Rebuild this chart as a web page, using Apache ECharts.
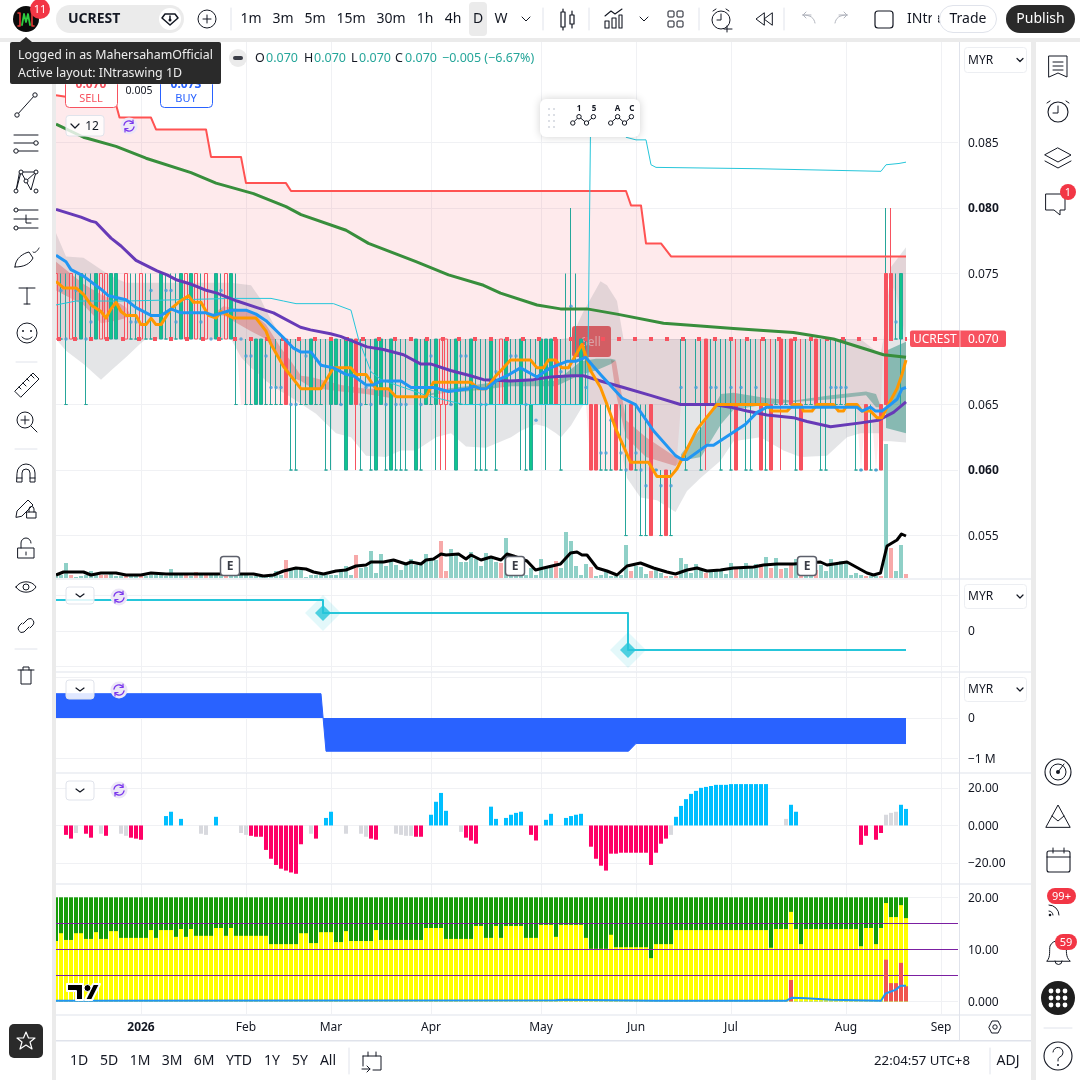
<!DOCTYPE html>
<html><head><meta charset="utf-8"><style>html,body{margin:0;padding:0;background:#fff}#c{width:1080px;height:1080px}</style>
<script src="https://cdn.jsdelivr.net/npm/echarts@6/dist/echarts.min.js"></script></head><body><div id="c"></div>
<script>
const monthTicks=[17,38,55,75,97,116,135,158,177];
const monthLabels=['2026','Feb','Mar','Apr','May','Jun','Jul','Aug','Sep'];
const priceTicks=[0.055,0.06,0.065,0.07,0.075,0.08,0.085];
// candles in thousandths of MYR
const dojiBars=[[1,75,70],[2,75,65],[4,75,70],[6,75,65],[7,75,70],[15,75,70],[16,75,70],[18,75,70],[19,75,70],[22,75,70],[23,75,70],[24,75,70],[29,75,70],[33,75,70],[36,75,65],[38,70,65],[39,70,65],[42,70,65],[43,70,65],[44,70,65],[45,70,65],[47,70,60],[48,70,60],[49,70,65],[50,70,65],[52,70,65],[53,70,65],[54,70,60],[57,70,65],[61,70,60],[62,70,65],[63,70,60],[66,70,60],[68,70,60],[69,70,60],[70,70,60],[73,70,60],[75,70,65],[79,70,65],[81,70,65],[82,70,65],[84,70,60],[85,70,60],[86,70,60],[88,70,60],[91,70,65],[92,70,65],[94,70,60],[96,70,65],[101,70,60],[102,75,65],[103,80,65],[104,75,65],[106,70,65],[109,65,60],[110,65,60],[111,65,60],[113,65,60],[114,65,55],[116,65,60],[117,65,55],[118,65,55],[120,60,60],[121,60,55],[123,60,55],[125,70,65],[126,70,60],[128,70,65],[129,70,60],[131,70,65],[132,70,65],[133,70,60],[134,70,65],[135,70,60],[137,70,65],[138,70,60],[139,70,60],[140,70,65],[142,70,60],[144,70,65],[146,70,65],[148,70,60],[150,70,65],[151,70,65],[153,70,60],[154,70,60],[155,70,65],[156,70,65],[157,70,65],[158,70,65],[160,65,60],[161,60,60],[163,65,60],[164,60,60],[166,80,65],[168,75,70]];
const greenBars=[[5,75,70,75,70],[8,75,70,75,70],[11,75,70,75,70],[12,75,70,75,70],[21,75,70,75,70],[25,75,70,75,70],[27,75,70,75,70],[32,75,70,75,70],[35,75,70,75,70],[40,70,65,70,65],[41,70,65,70,65],[51,70,65,70,65],[55,70,65,70,60],[56,70,65,70,65],[58,70,60,70,60],[59,70,65,70,65],[64,70,60,70,60],[65,70,65,70,65],[67,70,60,70,60],[72,70,60,70,60],[74,70,65,70,65],[76,70,65,70,60],[80,70,60,70,60],[83,70,65,70,65],[87,70,65,70,65],[90,70,65,70,65],[93,70,65,70,60],[95,65,60,70,60],[97,70,65,70,65],[98,70,65,70,60],[99,70,65,70,65],[105,70,65,70,65],[169,75,70,75,65]];
const redBars=[[46,70,65,70,65],[60,70,65,70,60],[100,70,65,70,65],[107,65,60,65,60],[108,65,60,65,60],[112,65,60,65,60],[115,65,60,65,60],[119,65,55,65,55],[122,60,55,60,55],[130,70,65,70,60],[136,65,60,70,60],[141,65,60,70,60],[143,65,60,70,60],[145,70,65,70,60],[147,70,65,70,65],[149,65,60,70,60],[152,70,65,70,65],[162,65,60,65,60],[165,65,60,65,60],[166,75,65,75,65],[167,75,70,80,70]];
const hollowBars=[[0,75,70,75,70],[3,75,70,75,70],[9,75,70,75,70],[10,75,70,75,70],[14,75,70,75,70],[17,75,70,75,70],[26,75,70,75,70],[28,75,70,75,70],[30,75,70,75,70],[34,75,70,75,70],[77,70,65,70,60],[78,70,65,70,60],[89,70,65,70,65]];
const signalDots=[[1,.0737],[4,.0737],[19,.0737],[22,.0737],[23,.0737],[33,.0737],[7,.0713],[15,.0713],[16,.0713],[24,.0713],[29,.0713],[2,.07],[6,.07],[31,.07],[37,.07],[38,.0687],[39,.0687],[42,.0687],[50,.0687],[75,.0687],[81,.0687],[82,.0687],[43,.0663],[44,.0663],[45,.0663],[62,.0663],[47,.065],[48,.065],[57,.065],[61,.065],[63,.065],[66,.065],[68,.065],[69,.065],[70,.065],[73,.065],[79,.065],[85,.065],[86,.065],[88,.0675],[91,.0687],[92,.0687],[94,.065],[96,.0638],[101,.0675],[103,.0725],[106,.0663],[125,.0663],[128,.0663],[131,.0663],[132,.0663],[135,.0663],[137,.0663],[140,.0663],[155,.0663],[156,.0663],[157,.0663],[158,.0663],[111,.0638],[109,.0613],[110,.0613],[113,.0613],[116,.0613],[114,.06],[117,.06],[120,.06],[161,.06],[164,.06],[118,.0588],[121,.0588],[123,.0588],[168,.0713]];
const currentPrice=0.07;
const stopLine=[[0,.0886],[12,.0879],[12.7,.0869],[19,.0869],[20,.0860],[30,.0860],[31,.0839],[37,.0839],[38,.0819],[46,.0819],[47,.0813],[114,.0813],[115,.0802],[117,.0802],[118,.0773],[121,.0773],[123,.0763],[170,.0763]];
const pinkBase=[[0,.07],[36,.07],[37,.065],[106,.065],[107,.06],[124,.06],[125,.065],[160,.065],[161,.06],[162,.065],[163,.065],[164,.06],[165,.065],[166,.075],[168,.0735],[170,.07]];
const greyBand=[[0,.07,.0781],[2,.0691,.0763],[5.5,.0681,.0762],[9,.0669,.0753],[11,.0676,.0748],[14,.0686,.0743],[17,.0697,.0743],[18,.07,.0743],[35,.07,.0743],[37,.0686,.0742],[39,.0678,.0741],[41,.0672,.073],[42,.0668,.0722],[45,.066,.0701],[46,.0658,.07],[52,.0643,.07],[56,.0628,.07],[59,.0625,.07],[62,.0611,.07],[66,.061,.07],[69,.0615,.07],[72,.0615,.07],[76,.0625,.07],[79,.0628,.07],[82,.0618,.07],[86,.0617,.07],[91,.0625,.07],[93,.063,.07],[96,.0635,.07],[98,.0633,.07],[100,.0628,.07],[101,.0625,.07],[103,.0634,.0701],[105.5,.065,.0721],[108.9,.065,.0744],[110.2,.065,.0741],[112.2,.065,.0729],[113.5,.0607,.07],[114.2,.0594,.07],[116.9,.0579,.07],[120.2,.0577,.07],[123.9,.0568,.07],[126.2,.0584,.07],[128.9,.0594,.07],[132.9,.0607,.07],[135.5,.0622,.07],[140.9,.0625,.07],[145.5,.0615,.07],[148.9,.061,.07],[154.2,.0611,.07],[158.2,.0625,.07],[160.9,.0628,.07],[164.9,.0628,.0688],[165.5,.0622,.07],[167,.0622,.0755],[170,.0621,.077]];
const redRibbonA=[[0,.0737,.0759],[5.5,.0726,.0742],[9,.0712,.0734],[12,.0714,.0729],[14,.0716,.0724],[15,.0718,.0718]];
const redRibbonB=[[31,.0718,.0718],[33.5,.0718,.0725],[39,.0706,.0721],[42,.07,.0711],[45,.0683,.0693],[47,.0671,.0683],[49,.0668,.0672],[51,.0663,.0671],[57,.066,.0665],[62,.0658,.0662],[67,.0655,.0662],[68,.0656,.0656]];
const redRibbonC=[[111,.0684,.0684],[112,.0658,.0683],[114,.0625,.0638],[118,.061,.0625],[123.9,.0603,.061],[125,.0607,.0607]];
const tealRibbonA=[[73,.0656,.0656],[78,.0659,.0662],[82,.066,.0664],[91,.0664,.0669],[100,.0664,.0668],[105,.0673,.0683],[108,.0676,.0685],[111,.0681,.0685],[112,.0684,.0684]];
const tealRibbonB=[[125,.0607,.0612],[129,.061,.0632],[133,.0635,.0658],[135.5,.0646,.0659],[142,.065,.0655],[147.5,.0652,.0653],[155,.0654,.0657],[162,.0657,.066],[164,.0648,.0658],[165,.0648,.0648]];
const tealRibbonC=[[166,.0632,.0691],[170,.0628,.0698]];
const orangeLine=[[0,.0744],[1.5,.0739],[4,.0739],[5.5,.0734],[7,.0726],[9,.0721],[10,.0716],[11,.0723],[12,.0728],[13,.0721],[14,.0718],[16,.0718],[17,.0711],[18,.0711],[19,.0716],[20,.0711],[21,.0711],[23,.0723],[24.5,.0728],[26.5,.0733],[27.5,.0728],[29,.0728],[30.5,.0718],[32,.0716],[33,.0721],[35.5,.0716],[40,.0716],[42,.0706],[43,.0696],[45.5,.0679],[49,.0662],[53,.0662],[55.5,.0678],[59,.0678],[60,.0673],[62,.0673],[64,.0662],[66.5,.0662],[68,.0656],[74,.0656],[75.5,.0667],[83,.0667],[84.5,.0662],[86,.0662],[88,.0672],[89.5,.0678],[90.9,.0684],[94.9,.0684],[96.2,.0678],[97.5,.0678],[98.5,.0684],[99.9,.0684],[101.2,.0678],[102.5,.0678],[105.2,.0696],[106.9,.0676],[108.9,.0663],[110.2,.065],[111.9,.0632],[114.9,.0606],[118.5,.0606],[120.2,.0595],[122.9,.0595],[124.2,.0601],[128.2,.0631],[132.2,.065],[142.2,.065],[143.2,.0645],[146.2,.0645],[147.5,.065],[148.9,.065],[149.5,.0645],[151.2,.0645],[152.2,.065],[155.5,.065],[156.5,.0645],[157.5,.0645],[158.2,.065],[160.2,.065],[161.2,.0645],[162.9,.0645],[164.2,.064],[165.2,.064],[166.9,.0653],[168.2,.0662],[169.2,.0673],[170,.0684]];
const blueLine=[[0,.0764],[2,.0759],[3,.0753],[5.5,.0748],[9,.0738],[10.5,.0733],[14,.073],[16,.0724],[19,.0718],[21,.0718],[23,.0723],[25,.072],[30,.072],[31.5,.0718],[35,.0722],[38,.0722],[40,.0719],[42,.0714],[45.5,.0701],[47.5,.0693],[49,.069],[51,.069],[53,.068],[55.5,.0678],[58,.0673],[59.5,.0672],[62,.0665],[63.5,.0665],[65,.0668],[69,.0668],[71,.0663],[75.5,.0663],[78.5,.066],[82.5,.0662],[83.5,.0664],[85,.0662],[86,.0662],[88,.0668],[90.2,.0672],[92.9,.0678],[96.2,.0671],[98.9,.0678],[102.2,.0683],[103.9,.0683],[105.9,.0686],[108.9,.0673],[113.2,.0655],[115.9,.065],[119.5,.063],[123.9,.0611],[125.2,.0608],[126.2,.0608],[130.2,.0619],[131.5,.0619],[137.9,.0635],[140.2,.0644],[142.2,.0648],[160.2,.0648],[161.2,.0645],[162.9,.0648],[163.9,.0645],[165.2,.0645],[166.9,.065],[168.2,.0654],[169.2,.0662],[170,.0663]];
const purpleLine=[[0,.0799],[5,.0793],[7,.079],[8,.0789],[11,.0777],[13,.0771],[16,.076],[20.2,.0752],[22.2,.0749],[24.2,.0745],[26.9,.0742],[30.2,.0737],[32.2,.0735],[36.2,.0729],[40.2,.0724],[43.5,.072],[48.9,.0709],[50.9,.0707],[54.9,.0704],[56.9,.0702],[62.2,.0694],[65.5,.0692],[69.5,.0688],[72.9,.0681],[74.9,.0681],[78.9,.0676],[82.9,.0672],[85.5,.0669],[90.9,.0668],[95.5,.0669],[98.9,.0671],[103.2,.0672],[105.5,.0672],[108.9,.0668],[113.5,.0663],[118.9,.0657],[124.9,.065],[131.5,.065],[134.9,.0648],[138.2,.0645],[142.2,.0642],[147.5,.064],[150.2,.0637],[154.9,.0633],[160.9,.0636],[164.5,.0638],[167.5,.0644],[170,.0652]];
const greenLine=[[0,.0864],[5.5,.0854],[12,.0847],[18,.0838],[27,.0827],[32,.0819],[39.5,.0811],[46,.0801],[49,.0795],[58,.0783],[62.5,.0773],[72,.0759],[78.5,.0749],[85.5,.0741],[88.9,.0735],[96.2,.0726],[100.9,.0723],[106.2,.0723],[112.2,.0719],[121.5,.0712],[128.9,.071],[135.5,.0708],[147.5,.0705],[155.5,.07],[162.2,.0692],[165.5,.0688],[170,.0686]];
const cyanLine=[[0,.0726],[4,.0729],[14,.0729],[35.5,.0731],[43,.0731],[45.5,.0729],[48,.0727],[55.5,.0727],[59,.0722],[60.5,.07],[63,.0675],[65,.0669],[74,.0657],[81.5,.065],[103.9,.065],[106.3,.065],[106.9,.086],[113,.086],[114,.0854],[116,.0852],[118,.0852],[119,.0833],[120,.0831],[140,.083],[165,.0828],[166,.0833],[168.6,.0834],[170,.0835]];
const volumes=[2,3,15,3,1,2,3,7,3,3,3,5,2,2,3,2,3,3,2,3,4,3,2,9,3,3,3,2,6,3,3,5,3,2,3,2,3,3,3,2,2,2,2,3,7,3,18,8,10,9,1,3,3,3,3,3,3,9,12,3,23,10,11,27,5,24,12,18,13,8,14,19,13,13,24,20,18,37,7,29,24,16,16,26,19,12,25,20,16,15,40,22,2,2,3,10,3,19,10,11,17,10,46,37,12,3,14,11,2,3,6,2,2,3,33,7,12,11,4,7,9,5,2,2,2,20,14,5,14,10,5,7,7,7,4,15,11,10,15,12,14,14,21,10,20,9,10,14,19,3,14,3,8,13,7,19,14,17,15,3,5,3,2,2,2,2,134,30,7,33,4];
const volumeDownBars=[3,9,10,14,17,26,28,30,34,46,60,77,78,89,100,107,115,119,122,124,130,136,141,143,145,147,149,152,162,165,167,170];
const volumeAverage=[[0,3],[1.5,6],[5.5,6],[7,3],[9,5],[12,5],[14,3],[17,3],[19,5],[22,4],[25.5,4],[29,4],[32,4],[36,4],[39.5,4],[41.5,2],[43.5,3],[45.5,7],[48,10],[50,9],[51.5,6],[53.5,4],[56,7],[58,8],[60,12],[62,13],[63,16],[65.5,16],[67.5,18],[70,14],[71,16],[73,14],[74,18],[75.5,19],[77,24],[78,23],[80.5,24],[82,19],[83,23],[85,18],[87,21],[89,18],[90.2,24],[91.5,22],[94.2,17],[95.9,8],[97.5,10],[100.9,14],[102.9,25],[104.2,26],[105.2,23],[106.2,23],[108.2,10],[110.2,7],[112.2,3],[114.2,12],[116.9,15],[119.5,10],[122.2,6],[123.9,4],[126.2,8],[128.2,10],[130.2,7],[132.9,8],[135.5,10],[139.5,11],[141.5,13],[144.2,14],[147.5,14],[152.9,16],[154.2,13],[158.2,16],[162.2,5],[163.5,3],[164.9,5],[166.2,32],[168.2,38],[169.1,44],[170,42]];
const stepLine=[[0,.87],[53.4,.87],[53.4,.51],[114.4,.51],[114.4,-.535],[170,-.535]];
const stepMarks=[[53.4,.51],[114.4,-.535]];
const flowArea=[[0,.6],[53,.6],[54,-.82],[114.5,-.82],[116,-.63],[170,-.63]];
const oscValues=[0,0,-5,-7,-4,0,-4.4,-6.5,0,-4.4,-5.5,0,0,-4.4,-5.5,-6.5,-7,-7.6,0,0,0,0,5,7.3,0,3.5,0,0,0,-4.4,-5,0,4.6,0,0,0,0,-4,-5,-5.5,-6,-6,-13,-17.7,-21,-23,-24,-25,-25.7,-10,0,-4.4,-7,0,4,7.3,0,0,-4.4,0,0,-4.4,-6,-7,-7.6,0,0,0,-4.4,-5,-5.5,-5.5,-6,-6,0,5.7,12.6,17.3,7.8,0,0,-3.4,-6.5,-8,-9.7,0,0,10,3.5,0,4,5.7,6.7,7.3,0,-5,-8,0,3,6.2,0,0,4,5,5.7,6.2,0,-11.3,-17.7,-21.4,-24,-15,-15,-14.5,-14.5,-14.5,-14.5,-14.5,-14.5,-21,-14.5,-9.7,-7,-5,4.6,10.4,14,16.8,18.4,20,20.5,21,21.6,21.6,21.6,22,22,22,22,22,22,22,22,0,0,0,3.5,11,7.3,0,0,0,0,0,0,0,0,0,0,0,0,-10.3,-5.5,0,-7.6,-4,5.7,6.7,7.3,11,8.8];
const oscNeutralBars=[4,9,13,14,29,30,37,38,51,58,61,62,68,69,70,71,81,123,146,166,167,168];
const yellowValues=[11.6,13.1,11.8,11.8,13.1,13.1,12,12,13.3,12,12,13.5,13.5,12.2,12.2,12.2,12.2,12.2,12.2,13.7,12.2,13.7,13.7,13.7,12.4,13.9,12.4,13.9,12.6,12.6,12.6,12.6,14.1,14.1,12.6,14.1,12.6,12.6,12.6,12.6,12.6,12.6,12.6,11,11,11,11,11,11,13.1,13.1,11.2,11.2,13.3,13.3,13.3,11.4,11.4,13.5,11.6,11.6,11.6,11.6,11.6,13.7,11.8,11.8,11.8,11.8,11.8,11.8,11.8,11.8,11.8,14.1,14.1,14.1,14.1,12,12,12,12,12,12,14.5,14.5,12.2,12.2,14.5,12.2,14.5,14.5,14.5,14.5,12.2,12.2,12.2,14.7,14.7,14.7,12.4,14.7,14.7,14.7,14.7,14.7,12.2,10.1,10.1,10.1,10.1,12.8,10.4,10.4,10.4,10.4,10.4,10.4,10.4,8.3,11,11,11,11,13.7,13.7,13.7,13.7,13.7,13.7,13.7,13.7,13.7,13.7,13.7,13.7,13.7,13.7,13.7,13.7,13.7,13.7,13.7,10.3,13.9,13.9,13.9,17.2,13.9,11,13.9,13.9,13.9,13.9,13.9,13.9,13.9,13.9,13.9,13.9,13.9,10.6,14.1,14.1,11,14.1,18.9,16.2,16.2,18.5,16];
const greenCeiling=20;
const lowerRedBars=[[147,4.1],[166,8],[167,3.5],[168,3.5],[169,7.4],[170,2.9]];
const lowerBlueLine=[[0,.1],[100,.2],[102,.3],[106,.25],[120,.1],[146,.1],[147.2,.7],[150,.6],[155,.3],[160,.2],[165,.1],[165.9,1.5],[167.9,2.2],[168.9,3],[170,3]];
const lowerLevels=[15,10,5];

const FONT='"Noto Sans",sans-serif', INK='#131722', GRIDC='#f0f1f4', SEP='#e0e3eb', GUT='#ebebeb';
const XMIN=0, XMAX=180.4;
const yTo=(v)=>+(v/1000).toFixed(4);
const candle=(rows)=>rows.map(r=>[r[0],yTo(r[2]),yTo(r[1]),yTo(r[4]),yTo(r[3])]);
const doji=dojiBars.map(r=>[r[0],yTo(r[2]),yTo(r[2]),yTo(r[2]),yTo(r[1])]);
function candleSeries(data,fill,border,z){return {type:'candlestick',xAxisIndex:0,yAxisIndex:0,barWidth:3,z,data,dimensions:['x','open','close','low','high'],encode:{x:0,y:[1,2,3,4]},silent:true,animation:false,itemStyle:{color:fill,color0:fill,borderColor:border,borderColor0:border,borderColorDoji:border,borderWidth:1}};}
function band(rows,color,z){return {type:'custom',xAxisIndex:0,yAxisIndex:0,z,silent:true,clip:true,animation:false,data:rows,encode:{x:0,y:[1,2]},renderItem(p,api){if(p.dataIndex!==0)return null;const up=rows.map(r=>api.coord([r[0],r[2]]));const dn=rows.map(r=>api.coord([r[0],r[1]])).reverse();return {type:'polygon',shape:{points:up.concat(dn)},style:{fill:color}};}};}
function line(data,color,width,z,extra){return Object.assign({type:'line',xAxisIndex:0,yAxisIndex:0,data,z,symbol:'none',silent:true,animation:false,lineStyle:{color,width,join:'round'}},extra||{});}
const pinkRows=stopLine.map(s=>s[0]);pinkBase.forEach(b=>{if(!pinkRows.includes(b[0]))pinkRows.push(b[0]);});pinkRows.sort((a,b)=>a-b);
const lerp=(arr,x)=>{for(let k=1;k<arr.length;k++){if(x<=arr[k][0]){const a=arr[k-1],b=arr[k];return a[1]+(b[1]-a[1])*(x-a[0])/(b[0]-a[0]);}}return arr[arr.length-1][1];};
const pinkBand=pinkRows.map(x=>[x,lerp(pinkBase,x),lerp(stopLine,x)]);

const grids=[[42,578],[580,671],[672,772],[773,883],[884,1014]].map(([t,b])=>({left:56,width:902,top:t,height:b-t}));
const xAxes=grids.map((g,k)=>({type:'value',gridIndex:k,min:XMIN,max:XMAX,axisLine:{show:false},
 axisTick:{show:false,customValues:monthTicks},
 splitLine:{show:true,lineStyle:{color:GRIDC,width:1}},
 axisLabel:k===4?{show:true,customValues:monthTicks,margin:8,fontFamily:FONT,fontSize:12,color:INK,hideOverlap:false,
   formatter:v=>{const s=monthLabels[monthTicks.indexOf(v)]||'';return s==='2026'?'{b|2026}':s;},rich:{b:{fontWeight:'bold',fontFamily:FONT,fontSize:12,color:INK}}}:{show:false}}));
const rightAxis=(k,min,max,vals,fmt,extra)=>Object.assign({type:'value',gridIndex:k,position:'right',min,max,axisLine:{show:false},axisTick:{show:false,customValues:vals},
 splitLine:{show:true,lineStyle:{color:GRIDC,width:1}},
 axisLabel:{customValues:vals,margin:10,padding:[2,0,0,0],fontFamily:FONT,fontSize:12,color:INK,formatter:fmt,hideOverlap:false,rich:{b:{fontWeight:'bold',fontFamily:FONT,fontSize:12,color:INK}}}},extra||{});
const yAxes=[
 rightAxis(0,.05176,.09267,priceTicks,v=>{const s=v.toFixed(3);return (s==='0.080'||s==='0.060')?'{b|'+s+'}':s;}),
 {type:'value',gridIndex:0,min:0,max:536,show:false},
 rightAxis(1,-1.127,1.437,[-1,0,1],v=>v===0?'0':''),
 rightAxis(2,-1.333,1.136,[-1,0,1],v=>v===0?'0':(v===-1?'−1 M':'')),
 rightAxis(3,-30.6,27.9,[-20,0,20],v=>v===0?'0.000':(v<0?'−20.00':'20.00')),
 rightAxis(4,-2.44,22.56,[0,10,20],v=>v===0?'0.000':v.toFixed(2))
];

// ---------- chrome drawn in page pixels ----------
let G=[];const LOW=[],HIGH=[];
const T=(s,x,y,o={})=>G.push({type:'text',x,y:y+.5,style:{text:s,fill:o.c||INK,font:(o.w||'normal')+' '+(o.s||14)+'px '+FONT,align:o.a||'center',verticalAlign:'middle'}});
const P=(d,o={})=>G.push({type:'path',shape:{pathData:d},style:{stroke:o.st===undefined?INK:o.st,fill:o.f||'none',lineWidth:o.w||1,lineCap:'round',lineJoin:'round'}});
const R=(x,y,w,h,r,f,st,o={})=>G.push({type:'rect',shape:{x,y,width:w,height:h,r:r||0},style:Object.assign({fill:f||'none',stroke:st||'none',lineWidth:o.w||1},o.style||{})});
const C=(x,y,r,f,st,o={})=>G.push({type:'circle',shape:{cx:x,cy:y,r},style:{fill:f||'none',stroke:st||'none',lineWidth:o.w||1}});
G=LOW;
R(572,326,39,31,3,'#e8585c');T('Sell',591,342,{c:'#f3b9b9',s:12});
G=HIGH;
R(52,38,4,1042,0,GUT);R(0,38,1080,4,0,GUT);R(1031,38,5,1042,0,GUT);
R(56,1040,975,1.5,0,SEP);
[578.5,671.5,772.5,883.5,1014.5].forEach(y=>R(56,y,975,1,0,SEP));
R(959,42,1,998,0,SEP);
// price tag
R(910,330.5,96,16.5,2,'#f7525f');R(959.5,330.5,1,16.5,0,'rgba(255,255,255,.6)');
T('UCREST',913,339,{a:'left',c:'#fff',s:12});T('0.070',968,339,{a:'left',c:'#fff',s:12});
// earnings
[230,515,807].forEach(x=>{R(x-9.5,556.5,19,19,3,'#fff','#5d606b',{w:1.5});T('E',x,566,{s:12,w:'bold',c:'#3a3d46'});});
// logo
P('M67 984H83V1000H76V991H67ZM93 984H100L92 1000H85Z',{st:'#fff',f:'#000',w:2});C(87.5,988,3.5,'#000','#fff',{w:1});
// top bar
C(26,19,13,'#0b0b0b');
P('M20 13V26M20 13H18M20 26H18M32 13V26M32 13H34M32 26H34',{st:'#e53935',w:1.6});P('M22 25L24 14L26 22L28 14L30 25',{st:'#2ecc40',w:1.8});
C(40,9,10,'#f23645');T('11',40,9,{c:'#fff',s:11});
R(56,5,128,28,14,GUT);T('UCREST',68,19,{a:'left',w:'bold'});
C(170,19,11,'#fff');P('M165 14H175L178 18L170 25L162 18ZM170 16V20',{w:1.5});C(170,20,1.5,INK);
C(207,19,9,'none',INK);P('M203 19H211M207 15V23');
[[231,8,30],[543,8,30],[589,8,30],[699,8,30],[784,8,30]].forEach(a=>P(`M${a[0]} ${a[1]}V${a[2]}`,{st:SEP}));
R(469,2,18,34,4,GUT);
[['1m',251],['3m',283],['5m',315],['15m',351],['30m',391],['1h',425],['4h',453],['D',478],['W',501]].forEach(a=>T(a[0],a[1],19,{s:14}));
P('M522 17L526 21L530 17');
P('M561 12H565V27H561ZM563 9V12M563 27V30M570 15H574V24H570ZM572 11V15M572 24V28',{w:1.2});
P('M605 28V21H609V28ZM612 28V18H616V28ZM619 28V15H622V28ZM605 16L611 11L615 14L622 9',{w:1.1});
P('M640 17L644 21L648 17');
R(668,11,6,6,1,'none',INK);R(677,11,6,6,1,'none',INK);R(668,21,6,6,1,'none',INK);R(677,21,6,6,1,'none',INK);
C(721,20,9,'none',INK);P('M721 14V20H717M713 11L716 9M726 9L729 11M727 26V32M724 29H732');
P('M764 13L756 19L764 25ZM772 13L764 19L772 25Z');
P('M811 15H803M803 15L806 12M803 15L806 18M803 15C811 15 814 18 815 23',{st:'#b2b5be'});
P('M839 15H847M847 15L844 12M847 15L844 18M847 15C839 15 836 18 835 23',{st:'#b2b5be'});
R(875,11,18,17,3,'none',INK,{w:1.2});
T('INtra',907,19,{a:'left',s:14});R(932,5,6,28,0,'#fff');
R(939.5,5.5,57,27,13.5,'#fff',SEP);T('Trade',968,19,{s:14});
R(1006,5,69,28,14,'#2a2a2a');T('Publish',1040.5,19,{c:'#fff',s:14});
// legend row
C(238,58,9,GUT);R(233,56,10,4,2,'#3a3d46');
[['O',255,'0.070',266],['H',304,'0.070',314],['L',351,'0.070',359],['C',395,'0.070',405]].forEach(a=>{T(a[0],a[1],58,{a:'left',s:12.5});T(a[2],a[3],58,{a:'left',s:12.5,c:'#26a69a'});});
T('−0.005 (−6.67%)',442,58,{a:'left',s:12.5,c:'#26a69a'});
// sell / buy
R(65.5,80.5,52,27,4,'#fff','#f7525f');T('0.070',91,84,{c:'#f7525f',s:12,w:'bold'});T('SELL',91,98,{c:'#f7525f',s:11});
T('0.005',139,91,{s:10.5});
R(160.5,80.5,52,27,4,'#fff','#2962ff');T('0.073',186,84,{c:'#2962ff',s:12,w:'bold'});T('BUY',186,98,{c:'#2962ff',s:11});
// indicator controls
R(66,115.5,38,20.5,3,'rgba(255,255,255,.8)',SEP);P('M71 124L75 128L79 124',{w:1.2});T('12',92,126,{s:12});
const sync=(x,y)=>{C(x,y,8.5,'#ece7f6');P(`M${x-5} ${y-1}A5 5 0 0 1 ${x+4} ${y-3}M${x+5} ${y+1}A5 5 0 0 1 ${x-4} ${y+3}`,{st:'#7c3aed',w:1.4});P(`M${x+4} ${y-6}V${y-2.5}H${x+1}M${x-4} ${y+6}V${y+2.5}H${x-1}`,{st:'#7c3aed',w:1.2});};
sync(129,126);
[[66,587,17,119,597],[66,680,19,119,690],[66,781,19,119,790]].forEach(a=>{R(a[0],a[1],28,a[2],3,'rgba(255,255,255,.85)',SEP);P(`M${a[0]+10} ${a[1]+a[2]/2-1.5}L${a[0]+14} ${a[1]+a[2]/2+1.5}L${a[0]+18} ${a[1]+a[2]/2-1.5}`,{w:1.2});sync(a[3],a[4]);});
// floating drawing bar
R(540,99,100,38,6,'#fff','none',{style:{shadowBlur:8,shadowColor:'rgba(0,0,0,.18)'}});
[[549,109],[554,109],[549,115],[554,115],[549,121],[554,121],[549,127],[554,127]].forEach(a=>C(a[0],a[1],1,'#d1d4dc'));
[[572.8,579,586.5,593.4],[610.7,617.6,624.5,631.4]].forEach(xs=>{P(`M${xs[0]} 123L${xs[1]} 116.7L${xs[2]} 123L${xs[3]} 116.7`,{w:1});[0,1,2,3].forEach(k=>C(xs[k],k%2?116.7:123,2.2,'#fff',INK,{w:1}));});
[['1',579],['5',594],['A',617.6],['C',631.7]].forEach(a=>T(a[0],a[1],108,{s:8,w:'bold'}));
// currency chips
[[47,25],[584,24],[677,24]].forEach(a=>{R(964.5,a[0]+.5,62,a[1],3,'#fff','#eceef2');T('MYR',968,a[0]+a[1]/2+.5,{a:'left',s:12});P(`M1017 ${a[0]+a[1]/2-1}L1020 ${a[0]+a[1]/2+2}L1023 ${a[0]+a[1]/2-1}`,{w:1.2});});
// left toolbar
P('M17 115L35 95');C(17,115,2.2,'#fff',INK);C(35,95,2.2,'#fff',INK);
P('M14 135H38M14 143H38M14 151H38');C(36,143,2.2,'#fff',INK);C(16,151,2.2,'#fff',INK);
P('M16 191L21 172L31 190L36 172L20 172ZM26 181L36 172');[[16,191],[21,172],[36,172],[36,191],[26,181]].forEach(a=>C(a[0],a[1],2,'#fff',INK));
P('M14 210H38M14 219H38M14 228H38M26 215V223H31');C(16,210,2,'#fff',INK);C(16,228,2,'#fff',INK);
P('M15 267C15 258 24 253 29 252L33 258C30 264 24 267 15 267ZM33 252C35 254 38 250 39 248');
P('M19 288H35M27 288V304M24 304H30');
C(27,333,10,'none',INK);C(23,331,1,INK);C(31,331,1,INK);P('M22 337C25 340 29 340 32 337');
P('M16 362H37',{st:SEP});
P('M15 391L33 373L39 379L21 397ZM19 387L21 389M23 383L26 386M27 379L29 381M31 375L34 378');
C(25,420,8,'none',INK);P('M31 426L37 432M21 420H29M25 416V424');
P('M15 449H37',{st:SEP});
P('M17 473A9 9 0 0 1 35 473V482H30V473A4 4 0 0 0 22 473V482H17ZM17 478H22M30 478H35');
P('M16 517L17 511L28 500L33 505L22 516ZM27 518H36V512H27ZM29 512V509A2.5 2.5 0 0 1 34 509V512');
P('M18 548H34V558H18ZM21 548V543A5 5 0 0 1 31 543M26 552V555');
P('M16 587C20 580 32 580 36 587C32 594 20 594 16 587Z');C(26,587,3,'none',INK);
P('M23 624L28 619A4 4 0 0 1 33 625L30 628M29 627L24 632A4 4 0 0 1 19 626L22 623');
P('M15 649H37',{st:SEP});
P('M18 670H34M21 670V684H31V670M23 670V667H29V670');
// star box
R(9,1024,34,34,5,'#2a2a2a');P('M26 1032L28.5 1038H35L30 1042L32 1049L26 1045L20 1049L22 1042L17 1038H23.5Z',{st:'#fff',w:1.2});
// right toolbar
P('M1049 56H1067V77L1058 73L1049 77ZM1053 62H1063M1053 66H1063M1053 70H1063');
C(1058,112,10,'none',INK,{w:1.1});P('M1058 106V113H1053M1047 103L1050 101M1066 101L1069 103');
P('M1058 148L1071 155L1058 162L1045 155ZM1045 161L1058 168L1071 161');
P('M1046 194H1065V210H1060V215L1054 210H1046Z');C(1068,192,8,'#f23645');T('1',1068,192,{c:'#fff',s:11});
C(1058,772,13,'none',INK,{w:1.1});C(1058,772,8,'none',INK,{w:1});P('M1058 772L1064 764');C(1058,772,2,INK);
P('M1046 827L1058 805L1070 827ZM1052 816L1058 821L1064 816');
R(1047,851,23,21,2,'none',INK,{w:1.1});P('M1047 857H1070M1053 848V853M1064 848V853');
P('M1049 905A10 10 0 0 1 1059 915M1049 911A4 4 0 0 1 1053 915');C(1050,915,1.3,INK);
R(1047,888,29,16,8,'#f23645');T('99+',1061.5,896,{c:'#fff',s:11});
P('M1047 961C1051 957 1049 950 1050 946C1053 939 1063 939 1066 946C1067 950 1065 957 1070 961ZM1055 961A3 3 0 0 0 1062 961');
R(1055,934,22,16,8,'#f23645');T('59',1066,942,{c:'#fff',s:11});
C(1058,998,17,'#1e1e1e');[-7,0,7].forEach(dx=>[-7,0,7].forEach(dy=>C(1058+dx,998+dy,2.4,'#fff')));
P('M1044 1028H1072',{st:SEP});
C(1058,1056,14,'none',INK,{w:1.1});P('M1053 1052A5 5 0 1 1 1060 1057C1058 1058 1058 1059 1058 1061');C(1058,1065,1,INK);
// bottom bar
[['1D',79],['5D',109],['1M',140],['3M',172],['6M',204],['YTD',239],['1Y',272],['5Y',300],['All',328]].forEach(a=>T(a[0],a[1],1061,{s:14}));
P('M349 1048V1074M990 1048V1074',{st:SEP});
P('M363 1056H381V1070H373M363 1056V1066M368 1052V1056M376 1052V1056M362 1069H370M367 1066L370 1069L367 1072');
T('22:04:57 UTC+8',922,1061,{s:13.2});T('ADJ',1008,1061,{s:14});
P('M989 1027L992 1021H998L1001 1027L998 1033H992Z');C(995,1027,2.2,'none',INK);
// tooltip
P('M20 42L26 37L32 42Z',{st:'none',f:'#2a2a2a'});
R(10,42,211,42,2,'#2a2a2a');T('Logged in as MahersahamOfficial',18,55,{a:'left',c:'#ededed',s:12.4});T('Active layout: INtraswing 1D',18,73,{a:'left',c:'#ededed',s:12.4});

const chromeSeries=(kids,z)=>({type:'custom',coordinateSystem:'none',z,silent:true,clip:false,animation:false,data:[0],renderItem:()=>({type:'group',children:kids})});
const series=[
 chromeSeries(LOW,1),
 band(pinkBand,'rgba(247,82,95,0.12)',2),
 band(greyBand,'rgba(120,123,134,0.2)',3),
 band(redRibbonA,'rgba(205,60,60,0.32)',4),band(redRibbonB,'rgba(205,60,60,0.32)',4),band(redRibbonC,'rgba(205,60,60,0.32)',4),
 band(tealRibbonA,'rgba(8,125,105,0.36)',4),band(tealRibbonB,'rgba(8,125,105,0.36)',4),band(tealRibbonC,'rgba(8,125,105,0.42)',4),
 {type:'bar',xAxisIndex:0,yAxisIndex:1,barWidth:4,z:5,silent:true,animation:false,data:volumes.map((v,i)=>({value:[i,v],itemStyle:{color:volumeDownBars.includes(i)?'#f7a9a9':'#8fd0c7'}}))},
 candleSeries(doji,'#26a69a','#26a69a',6),
 candleSeries(candle(greenBars),'#10c48c','#26a69a',7),
 candleSeries(candle(redBars),'#f7525f','#f7525f',7),
 candleSeries(candle(hollowBars),'rgba(255,235,235,0.35)','#f7525f',7),
 {type:'scatter',xAxisIndex:0,yAxisIndex:0,symbolSize:3.5,z:7,silent:true,animation:false,data:signalDots,itemStyle:{color:'#4a9fd8'}},
 line([[0,currentPrice],[170.2,currentPrice]],'#f7525f',4,8,{lineStyle:{color:'#f7525f',width:4,type:[4,12],dashOffset:-1,cap:'butt'}}),
 line(stopLine,'#ff5252',2,9),
 line(cyanLine,'#26c6da',1,9),
 line(greenLine,'#388e3c',3,10),
 line(purpleLine,'#673ab7',3,10),
 line(orangeLine,'#ff9800',3,11),
 line(blueLine,'#2196f3',3,12),
 line(volumeAverage,'#000000',3,13,{yAxisIndex:1}),
 {type:'scatter',xAxisIndex:1,yAxisIndex:2,symbol:'diamond',symbolSize:[36,36],z:3,silent:true,animation:false,data:stepMarks,itemStyle:{color:'rgba(38,198,218,0.16)'}},
 line(stepLine,'#26c6da',2,4,{xAxisIndex:1,yAxisIndex:2}),
 {type:'scatter',xAxisIndex:1,yAxisIndex:2,symbol:'diamond',symbolSize:[16,16],z:5,silent:true,animation:false,data:stepMarks,itemStyle:{color:'#26c6da'}},
 line(flowArea,'#2962ff',1,4,{xAxisIndex:2,yAxisIndex:3,areaStyle:{color:'#2962ff',origin:0,opacity:1}}),
 {type:'bar',xAxisIndex:3,yAxisIndex:4,barWidth:4,z:3,silent:true,animation:false,data:oscValues.map((v,i)=>({value:[i,v],itemStyle:{color:oscNeutralBars.includes(i)?'#d8d9de':(v>0?'#00bfff':'#ff0066')}}))},
 {type:'bar',xAxisIndex:4,yAxisIndex:5,barWidth:4,barGap:'-100%',z:3,silent:true,animation:false,data:yellowValues.map((v,i)=>[i,greenCeiling]),itemStyle:{color:'#169c08'}},
 {type:'bar',xAxisIndex:4,yAxisIndex:5,barWidth:4,barGap:'-100%',z:4,silent:true,animation:false,data:yellowValues.map((v,i)=>[i,v]),itemStyle:{color:'#ffff00'}},
 {type:'bar',xAxisIndex:4,yAxisIndex:5,barWidth:4,barGap:'-100%',z:5,silent:true,animation:false,data:lowerRedBars,itemStyle:{color:'#f0554f'}},
 line(lowerBlueLine,'#2196f3',2,6,{xAxisIndex:4,yAxisIndex:5,
   markLine:{silent:true,symbol:'none',animation:false,label:{show:false},lineStyle:{color:'#7b1fa2',width:1,type:'solid'},data:lowerLevels.map(v=>({yAxis:v}))}}),
 chromeSeries(HIGH,50)
];
const chart=echarts.init(document.getElementById('c'),null,{renderer:'canvas'});
chart.setOption({animation:false,backgroundColor:'#fff',textStyle:{fontFamily:FONT},grid:grids,xAxis:xAxes,yAxis:yAxes,series});
</script></body></html>
